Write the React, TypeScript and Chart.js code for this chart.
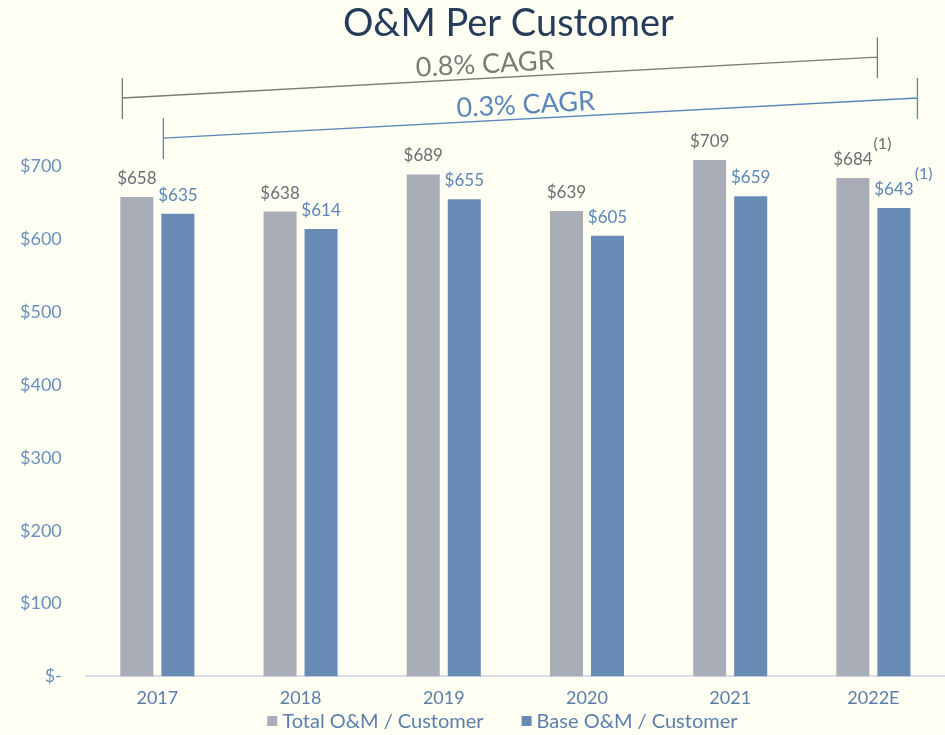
import React, { useEffect, useRef } from 'react';
import { Chart, registerables } from 'chart.js';

Chart.register(...registerables);

// ---------- data ----------
const categories = ['2017', '2018', '2019', '2020', '2021', '2022E'];
const totalOM = [658, 638, 689, 639, 709, 684];
const baseOM = [635, 614, 655, 605, 659, 643];
const footnotes = ['', '', '', '', '', '(1)'];
const seriesNames = ['Total O&M / Customer', 'Base O&M / Customer'];
const yTickValues = [0, 100, 200, 300, 400, 500, 600, 700];
const chartTitle = 'O&M Per Customer';

// CAGR brackets (levels in data units at left / right end)
const cagrLabels = ['0.8% CAGR', '0.3% CAGR'];
const cagrStartLevels = [794, 739];
const cagrEndLevels = [850, 794];

// ---------- styles ----------
const FONT = 'Lato, "Open Sans", sans-serif';
const BG = '#FFFEF2';
const barColors = ['#A9ADB8', '#678BB5'];
const labelColors = ['#6B6E75', '#5B86B8'];
const cagrColors = ['#7A7A7A', '#5B86B8'];
const legendTextColor = '#5B7EAD';
const titleColor = '#253C5C';

const titlePlugin = {
  id: 'customTitle',
  afterDraw(chart: any) {
    const ctx = chart.ctx;
    const area = chart.chartArea;
    ctx.save();
    ctx.font = `38px ${FONT}`;
    ctx.fillStyle = titleColor;
    ctx.textAlign = 'center';
    ctx.textBaseline = 'middle';
    ctx.fillText(chartTitle, (area.left + area.right) / 2 - 7, 24);
    ctx.restore();
  },
};

const valueLabels = {
  id: 'valueLabels',
  afterDatasetsDraw(chart: any) {
    const ctx = chart.ctx;
    ctx.save();
    chart.data.datasets.forEach((ds: any, di: number) => {
      const meta = chart.getDatasetMeta(di);
      meta.data.forEach((bar: any, i: number) => {
        const txt = '$' + ds.data[i];
        ctx.font = `17px ${FONT}`;
        ctx.textAlign = 'center';
        ctx.textBaseline = 'alphabetic';
        ctx.fillStyle = labelColors[di];
        ctx.fillText(txt, bar.x, bar.y - 13);
        if (footnotes[i]) {
          const w = ctx.measureText(txt).width;
          ctx.font = `16px ${FONT}`;
          ctx.textAlign = 'left';
          ctx.fillText(footnotes[i], bar.x + w / 2 + 1, bar.y - 29);
        }
      });
    });
    ctx.restore();
  },
};

const cagrPlugin = {
  id: 'cagrBrackets',
  afterDraw(chart: any) {
    const ctx = chart.ctx;
    const y = chart.scales.y;
    const m0 = chart.getDatasetMeta(0).data;
    const m1 = chart.getDatasetMeta(1).data;
    const last = categories.length - 1;
    const starts = [m0[0].x - m0[0].width / 2 + 2, m1[0].x - m1[0].width / 2 + 2];
    const ends = [m1[last].x - m1[last].width / 2, m1[last].x + m1[last].width / 2 + 7];
    ctx.save();
    cagrLabels.forEach((label, k) => {
      const x1 = starts[k];
      const x2 = ends[k];
      const y1 = y.getPixelForValue(cagrStartLevels[k]);
      const y2 = y.getPixelForValue(cagrEndLevels[k]);
      ctx.strokeStyle = cagrColors[k];
      ctx.lineWidth = 1.3;
      ctx.beginPath();
      ctx.moveTo(x1, y1);
      ctx.lineTo(x2, y2);
      ctx.moveTo(x1, y1 - 20);
      ctx.lineTo(x1, y1 + 21);
      ctx.moveTo(x2, y2 - 20);
      ctx.lineTo(x2, y2 + 21);
      ctx.stroke();
      const ang = Math.atan2(y2 - y1, x2 - x1);
      ctx.translate((x1 + x2) / 2, (y1 + y2) / 2);
      ctx.rotate(ang);
      ctx.font = `27px ${FONT}`;
      ctx.fillStyle = cagrColors[k];
      ctx.textAlign = 'center';
      ctx.textBaseline = 'middle';
      ctx.fillText(label, -14, -14);
      ctx.setTransform(1, 0, 0, 1, 0, 0);
    });
    ctx.restore();
  },
};

const customLegend = {
  id: 'customLegend',
  afterDraw(chart: any) {
    const ctx = chart.ctx;
    const area = chart.chartArea;
    ctx.save();
    ctx.font = `20px ${FONT}`;
    const box = 10;
    const gapBoxText = 5;
    const gapItems = 38;
    const widths = seriesNames.map((n) => ctx.measureText(n).width);
    const total = widths.reduce((a, w) => a + box + gapBoxText + w, 0) + gapItems * (seriesNames.length - 1);
    let x = (area.left + area.right) / 2 - 13 - total / 2;
    const yc = chart.height - 14;
    seriesNames.forEach((n, i) => {
      ctx.fillStyle = barColors[i];
      ctx.fillRect(x, yc - box / 2, box, box);
      x += box + gapBoxText;
      ctx.fillStyle = legendTextColor;
      ctx.textAlign = 'left';
      ctx.textBaseline = 'middle';
      ctx.fillText(n, x, yc + 1);
      x += widths[i] + gapItems;
    });
    ctx.restore();
  },
};

export default function App() {
  const ref = useRef<HTMLCanvasElement>(null);
  useEffect(() => {
    if (!ref.current) return;
    const chart = new Chart(ref.current, {
      type: 'bar',
      data: {
        labels: categories,
        datasets: [
          {
            label: seriesNames[0],
            data: totalOM,
            backgroundColor: barColors[0],
            categoryPercentage: 0.573,
            barPercentage: 0.805,
          },
          {
            label: seriesNames[1],
            data: baseOM,
            backgroundColor: barColors[1],
            categoryPercentage: 0.573,
            barPercentage: 0.805,
          },
        ],
      },
      options: {
        responsive: false,
        animation: false,
        devicePixelRatio: 1,
        layout: { padding: { left: -4, right: 0, top: 55, bottom: 15 } },
        plugins: {
          title: { display: false },
          legend: { display: false },
          tooltip: { enabled: false },
        },
        scales: {
          x: {
            grid: { display: false, drawTicks: false },
            border: { display: true, color: '#D8DEE8', width: 2 },
            ticks: { color: '#5A7DAA', font: { family: FONT, size: 18 }, padding: 11 },
          },
          y: {
            min: 0,
            max: 853,
            grid: { display: false, drawTicks: false },
            border: { display: false },
            afterBuildTicks: (scale: any) => {
              scale.ticks = yTickValues.map((v) => ({ value: v }));
            },
            ticks: {
              color: '#6890C0',
              font: { family: FONT, size: 18 },
              padding: 24,
              callback: (v: any) => (Number(v) === 0 ? '$-' : '$' + v),
            },
          },
        },
      },
      plugins: [valueLabels, cagrPlugin, customLegend, titlePlugin],
    });
    return () => chart.destroy();
  }, []);
  return (
    <div style={{ position: 'fixed', left: 0, top: 0, width: 945, height: 735, background: BG }}>
      <canvas ref={ref} width={945} height={735} />
    </div>
  );
}
